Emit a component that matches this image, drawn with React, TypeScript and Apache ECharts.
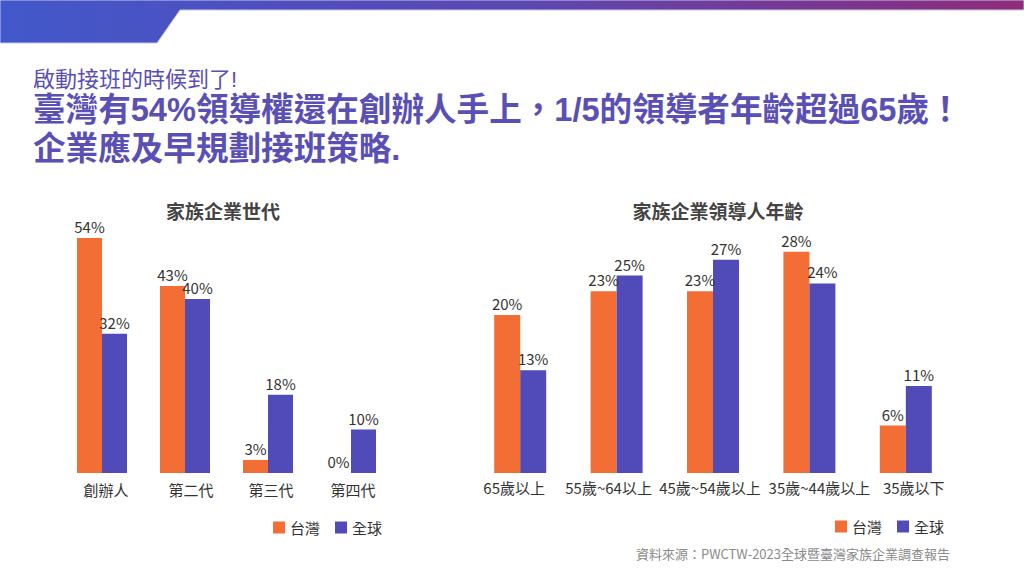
import React, { useEffect, useRef } from "react";
import * as echarts from "echarts";

const genCategories = ["創辦人", "第二代", "第三代", "第四代"];
const genTaiwan = [54, 43, 3, 0];
const genGlobal = [32, 40, 18, 10];

const ageCategories = ["65歲以上", "55歲~64以上", "45歲~54歲以上", "35歲~44歲以上", "35歲以下"];
const ageTaiwan = [20, 23, 23, 28, 6];
const ageGlobal = [13, 25, 27, 24, 11];

const seriesNames = ["台灣", "全球"];
const ORANGE = "#F26E34";
const BLUE = "#504BB9";
const FONT = "'Noto Sans CJK TC', 'Noto Sans', sans-serif";
const HEAD_FONT = "'Liberation Sans', 'Noto Sans CJK TC', sans-serif";
const HEAD_COLOR = "#5A4FB4";

// horizontal nudges of the category labels (style only)
const genLabelShift = [4, 6, 3, 2];
const ageLabelShift = [-6, -8, -3, 10, 8];

function shiftedLabels(shifts: number[], fontSize: number) {
  const rich: Record<string, any> = {};
  shifts.forEach((d, i) => {
    rich["l" + i] = {
      fontSize,
      color: "#333",
      fontFamily: FONT,
      padding: d >= 0 ? [0, 0, 0, 2 * d] : [0, -2 * d, 0, 0],
    };
  });
  return {
    formatter: (v: string, i: number) => "{l" + i + "|" + v + "}",
    rich,
  };
}

export default function App() {
  const ref = useRef<HTMLDivElement>(null);
  useEffect(() => {
    if (!ref.current) return;
    const chart = echarts.init(ref.current, null, { renderer: "svg" });
    const label = {
      show: true,
      position: "top",
      formatter: "{c}%",
      color: "#333",
      fontSize: 15,
      distance: 4,
      fontFamily: FONT,
    };
    chart.setOption({
      animation: false,
      backgroundColor: "#fff",
      textStyle: { fontFamily: FONT },
      graphic: [
        {
          type: "polygon",
          shape: {
            points: [
              [0, 0],
              [1024, 0],
              [1024, 10],
              [180, 10],
              [157, 43],
              [0, 43],
            ],
          },
          style: {
            fill: new echarts.graphic.LinearGradient(0, 0, 1, 0, [
              { offset: 0, color: "#4258CA" },
              { offset: 0.5, color: "#5A48B2" },
              { offset: 1, color: "#8E2C79" },
            ]),
            stroke: "#C9C2EC",
            lineWidth: 1,
          },
        },
        {
          type: "text",
          x: 33,
          y: 79,
          style: {
            text: "啟動接班的時候到了!",
            fill: HEAD_COLOR,
            fontSize: 22,
            fontFamily: HEAD_FONT,
            verticalAlign: "middle",
          },
        },
        {
          type: "text",
          x: 33,
          y: 109,
          style: {
            text: "臺灣有54%領導權還在創辦人手上，1/5的領導者年齡超過65歲！",
            fill: HEAD_COLOR,
            fontSize: 32.6,
            fontWeight: "bold",
            fontFamily: HEAD_FONT,
            verticalAlign: "middle",
          },
        },
        {
          type: "text",
          x: 33,
          y: 148,
          style: {
            text: "企業應及早規劃接班策略.",
            fill: HEAD_COLOR,
            fontSize: 32.6,
            fontWeight: "bold",
            fontFamily: HEAD_FONT,
            verticalAlign: "middle",
          },
        },
        {
          type: "text",
          right: 74,
          top: 547,
          style: {
            text: "資料來源：PWCTW-2023全球暨臺灣家族企業調查報告",
            fill: "#8A8A8A",
            fontSize: 13,
            fontFamily: FONT,
          },
        },
      ],
      title: [
        {
          text: "家族企業世代",
          left: 218,
          top: 196,
          textAlign: "center",
          textStyle: { fontSize: 19, fontWeight: "bold", color: "#444", fontFamily: FONT },
        },
        {
          text: "家族企業領導人年齡",
          left: 713,
          top: 196,
          textAlign: "center",
          textStyle: { fontSize: 19, fontWeight: "bold", color: "#444", fontFamily: FONT },
        },
      ],
      legend: [
        {
          data: seriesNames,
          left: 268,
          top: 515,
          itemWidth: 12,
          itemHeight: 12,
          itemGap: 15,
          icon: "rect",
          textStyle: { fontSize: 15, color: "#333", fontFamily: FONT },
        },
        {
          data: seriesNames,
          left: 830,
          top: 514,
          itemWidth: 12,
          itemHeight: 12,
          itemGap: 15,
          icon: "rect",
          textStyle: { fontSize: 15, color: "#333", fontFamily: FONT },
        },
      ],
      grid: [
        { left: 60.5, width: 332, top: 212, bottom: 103 },
        { left: 472, width: 482, top: 236, bottom: 103 },
      ],
      xAxis: [
        {
          type: "category",
          gridIndex: 0,
          data: genCategories,
          axisLine: { show: false },
          axisTick: { show: false },
          axisLabel: {
            color: "#333",
            fontSize: 15,
            margin: 9,
            interval: 0,
            fontFamily: FONT,
            ...shiftedLabels(genLabelShift, 15),
          },
        },
        {
          type: "category",
          gridIndex: 1,
          data: ageCategories,
          axisLine: { show: false },
          axisTick: { show: false },
          axisLabel: {
            color: "#333",
            fontSize: 15,
            margin: 7,
            interval: 0,
            fontFamily: FONT,
            ...shiftedLabels(ageLabelShift, 15),
          },
        },
      ],
      yAxis: [
        { type: "value", gridIndex: 0, min: 0, max: 60, show: false, splitLine: { show: false } },
        { type: "value", gridIndex: 1, min: 0, max: 30, show: false, splitLine: { show: false } },
      ],
      series: [
        {
          name: seriesNames[0],
          type: "bar",
          xAxisIndex: 0,
          yAxisIndex: 0,
          data: genTaiwan,
          barWidth: 25,
          barGap: "0%",
          itemStyle: { color: ORANGE },
          label,
        },
        {
          name: seriesNames[1],
          type: "bar",
          xAxisIndex: 0,
          yAxisIndex: 0,
          data: genGlobal,
          barWidth: 25,
          barGap: "0%",
          itemStyle: { color: BLUE },
          label,
        },
        {
          name: seriesNames[0],
          type: "bar",
          xAxisIndex: 1,
          yAxisIndex: 1,
          data: ageTaiwan,
          barWidth: 26,
          barGap: "0%",
          itemStyle: { color: ORANGE },
          label,
        },
        {
          name: seriesNames[1],
          type: "bar",
          xAxisIndex: 1,
          yAxisIndex: 1,
          data: ageGlobal,
          barWidth: 26,
          barGap: "0%",
          itemStyle: { color: BLUE },
          label,
        },
      ],
    });
    return () => chart.dispose();
  }, []);
  return (
    <div
      ref={ref}
      style={{ position: "fixed", left: 0, top: 0, width: 1024, height: 576 }}
    />
  );
}
